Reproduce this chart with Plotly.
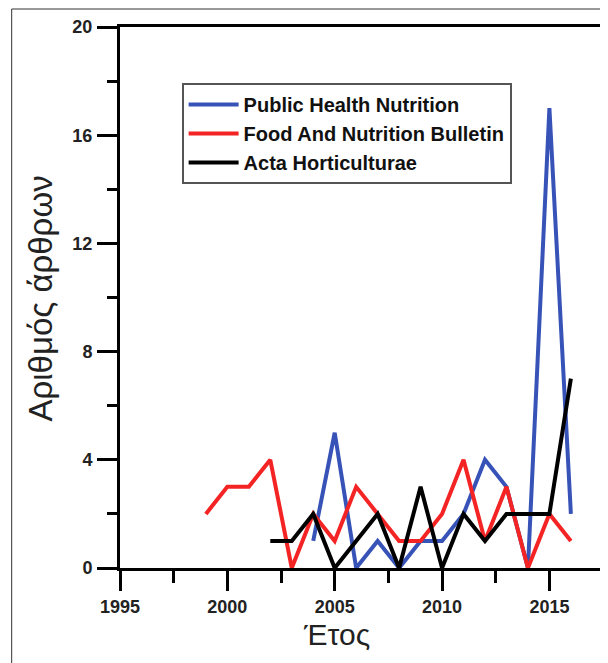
import plotly.graph_objects as go

# ---- data ----
phn_years = [2004, 2005, 2006, 2007, 2008, 2009, 2010, 2011, 2012, 2013, 2014, 2015, 2016]
phn_values = [1, 5, 0, 1, 0, 1, 1, 2, 4, 3, 0, 17, 2]

fnb_years = [1999, 2000, 2001, 2002, 2003, 2004, 2005, 2006, 2007, 2008, 2009, 2010,
             2011, 2012, 2013, 2014, 2015, 2016]
fnb_values = [2, 3, 3, 4, 0, 2, 1, 3, 2, 1, 1, 2, 4, 1, 3, 0, 2, 1]

acta_years = [2002, 2003, 2004, 2005, 2006, 2007, 2008, 2009, 2010, 2011, 2012, 2013,
              2014, 2015, 2016]
acta_values = [1, 1, 2, 0, 1, 2, 0, 3, 0, 2, 1, 2, 2, 2, 7]

series_names = ["Public Health Nutrition", "Food And Nutrition Bulletin", "Acta Horticulturae"]
x_tick_vals = [1995, 2000, 2005, 2010, 2015]
y_tick_vals = [0, 4, 8, 12, 16, 20]
x_title = "Έτος"
y_title = "Αριθμός άρθρων"

# ---- styling ----
colors = ["#3853b8", "#f42424", "#000000"]
OFF = 8  # page body margin
W, H = 608 - OFF, 663 - OFF
# target screen positions of the plot area
PL, PR, PT, PB = 120, 605, 27, 568
ML, MR, MT, MB = PL - OFF, W - (PR - OFF), PT - OFF, H - (PB - OFF)
pw, ph = W - ML - MR, H - MT - MB


def px(xs):
    return (xs - PL) / pw


def py(ys):
    return (PB - ys) / ph


fig = go.Figure()
for name, xs, ys, c in zip(series_names,
                           [phn_years, fnb_years, acta_years],
                           [phn_values, fnb_values, acta_values],
                           colors):
    fig.add_trace(go.Scatter(x=xs, y=ys, mode="lines", name=name,
                             line=dict(color=c, width=4), legendgroup=name))

FONT = "Liberation Sans, Arial, sans-serif"
tickfont = dict(family=FONT, size=18, color="#222222", weight="bold")

fig.update_layout(
    width=W, height=H,
    margin=dict(l=ML, r=MR, t=MT, b=MB),
    plot_bgcolor="white", paper_bgcolor="white",
    showlegend=True,
    legend=dict(
        x=px(182), y=py(83), xanchor="left", yanchor="top",
        bgcolor="white", bordercolor="#555555", borderwidth=2,
        font=dict(family=FONT, size=20, color="#111111", weight="bold"),
        tracegroupgap=0, itemwidth=50,
    ),
    xaxis=dict(
        range=[1995, 2017.45], tickvals=x_tick_vals, showgrid=False, zeroline=False,
        showline=True, linecolor="black", linewidth=3, mirror=True,
        ticks="outside", ticklen=20, tickwidth=3, tickcolor="black",
        ticklabelstandoff=0,
        tickfont=tickfont,
        minor=dict(dtick=2.5, tick0=1995, ticks="outside", ticklen=12, tickwidth=3,
                   tickcolor="black", showgrid=False),
    ),
    yaxis=dict(
        range=[0, 20], tickvals=y_tick_vals, showgrid=False, zeroline=False,
        showline=True, linecolor="black", linewidth=3, mirror=True,
        ticks="outside", ticklen=20, tickwidth=3, tickcolor="black",
        ticklabelstandoff=1,
        tickfont=tickfont,
        minor=dict(dtick=2, tick0=0, ticks="outside", ticklen=10, tickwidth=3,
                   tickcolor="black", showgrid=False),
    ),
    annotations=[
        dict(text=y_title, xref="paper", yref="paper", x=px(40), y=py(298),
             xanchor="center", yanchor="middle", textangle=-90, showarrow=False,
             font=dict(family=FONT, size=33, color="#222222")),
        dict(text=x_title, xref="paper", yref="paper", x=px(338),
             y=py(616), xanchor="center", yanchor="top", showarrow=False,
             font=dict(family=FONT, size=30, color="#222222")),
    ],
    shapes=[
        dict(type="rect", xref="paper", yref="paper",
             x0=px(11), x1=1.5, y0=-1.0, y1=py(9),
             line=dict(color="#333333", width=1), fillcolor="rgba(0,0,0,0)", layer="below"),
    ],
)

fig.write_html("out.html")
